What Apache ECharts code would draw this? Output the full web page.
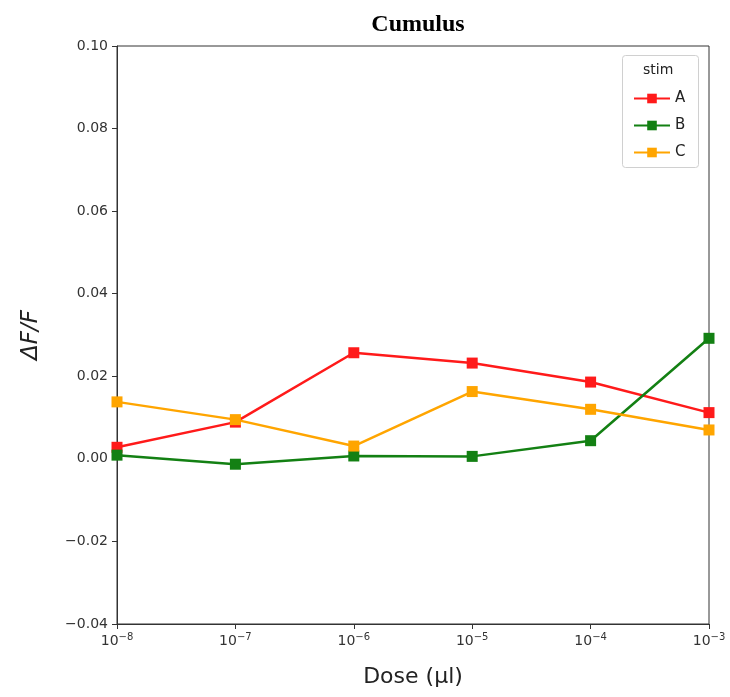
<!DOCTYPE html>
<html><head><meta charset="utf-8">
<script src="https://cdn.jsdelivr.net/npm/echarts@6/dist/echarts.min.js"></script>
<style>html,body{margin:0;padding:0;background:#fff}#c{width:730px;height:697px}</style>
</head><body><div id="c"></div>
<script>
const doses = [1e-8, 1e-7, 1e-6, 1e-5, 1e-4, 1e-3];
const seriesNames = ['A', 'B', 'C'];
const valuesA = [0.0028, 0.0089, 0.0257, 0.0232, 0.0186, 0.0112];
const valuesB = [0.0009, -0.0013, 0.0007, 0.0006, 0.0044, 0.0292];
const valuesC = [0.0138, 0.0095, 0.0031, 0.0163, 0.0120, 0.0070];
const colors = ['#ff1a1a', '#138013', '#ffa500'];
const yTicks = [-0.04, -0.02, 0.00, 0.02, 0.04, 0.06, 0.08, 0.10];

const chart = echarts.init(document.getElementById('c'));
const allVals = [valuesA, valuesB, valuesC];
const font = 'DejaVu Sans';
chart.setOption({
  animation: false,
  backgroundColor: '#fff',
  title: {
    text: 'Cumulus', left: 413, top: 8, textAlign: 'center',
    textStyle: {fontFamily: 'Liberation Serif', fontWeight: 'bold', fontSize: 24, color: '#000'}
  },
  grid: {left: 117, right: 21, top: 46, bottom: 73, show: true, borderColor: '#333', borderWidth: 1},
  xAxis: {
    type: 'log', logBase: 10, min: 1e-8, max: 1e-3,
    name: 'Dose (µl)', nameLocation: 'middle', nameGap: 42,
    nameTextStyle: {fontFamily: font, fontSize: 22, color: '#222'},
    axisLine: {show: true, onZero: false, lineStyle: {color: '#333', width: 1}},
    axisTick: {show: true, inside: false, length: 5, lineStyle: {color: '#333'}},
    minorTick: {show: false},
    splitLine: {show: false},
    axisLabel: {
      margin: 8, color: '#333', fontFamily: font, fontSize: 14,
      formatter: v => '10{s|−' + Math.abs(Math.round(Math.log10(v))) + '}',
      rich: {s: {fontSize: 10, verticalAlign: 'top', padding: [0, 0, 8, 0], color: '#333', fontFamily: font}}
    }
  },
  yAxis: {
    type: 'value', min: -0.04, max: 0.10, interval: 0.02,
    name: 'ΔF/F', nameLocation: 'middle', nameGap: 74,
    nameTextStyle: {fontFamily: font, fontSize: 23, fontStyle: 'italic', color: '#222'},
    axisLine: {show: true, onZero: false, lineStyle: {color: '#333', width: 1}},
    axisTick: {show: true, inside: false, length: 5, lineStyle: {color: '#333'}},
    splitLine: {show: false},
    axisLabel: {
      margin: 9, color: '#333', fontFamily: font, fontSize: 14,
      formatter: v => {
        const t = yTicks.find(x => Math.abs(x - v) < 1e-9);
        return (t !== undefined ? t : v).toFixed(2).replace('-', '−');
      }
    }
  },
  legend: {
    orient: 'vertical', left: 628, top: 86, z: 10,
    itemWidth: 36, itemHeight: 12, itemGap: 12,
    textStyle: {fontFamily: font, fontSize: 15, color: '#222'},
    data: seriesNames
  },
  graphic: [
    {type: 'rect', left: 622, top: 55, shape: {width: 76, height: 112, r: 3},
     style: {fill: '#fff', stroke: '#d0d0d0', lineWidth: 1}, z: 1},
    {type: 'text', left: 643, top: 63, z: 11,
     style: {text: 'stim', fontFamily: font, fontSize: 14, fill: '#222'}}
  ],
  series: seriesNames.map((n, i) => ({
    name: n, type: 'line',
    data: doses.map((d, j) => [d, allVals[i][j]]),
    symbol: 'rect', symbolSize: 11,
    lineStyle: {color: colors[i], width: 2.5},
    itemStyle: {color: colors[i]},
    clip: false
  }))
});
</script></body></html>
